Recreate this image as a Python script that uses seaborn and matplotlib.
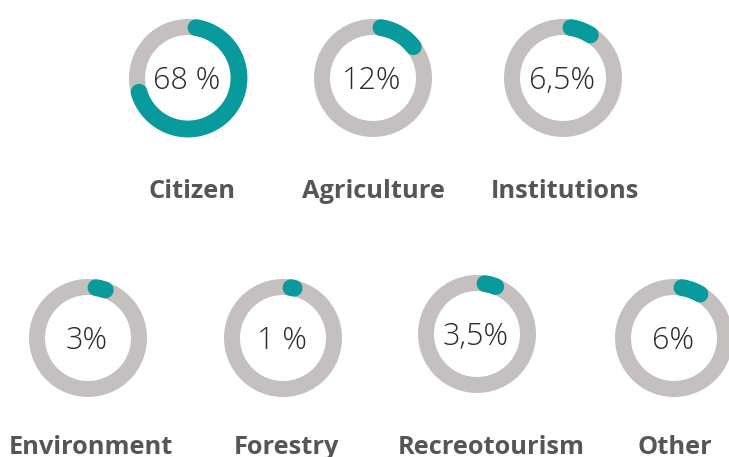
import matplotlib.pyplot as plt
import numpy as np
import pandas as pd
import seaborn as sns
from matplotlib.patches import Circle

CATEGORIAS = ['Citizen', 'Agriculture', 'Institutions',
              'Environment', 'Forestry', 'Recreotourism', 'Other']
VALORES = [68, 12, 6.5, 3, 1, 3.5, 6]
ROTULOS = ['68 %', '12%', '6,5%', '3%', '1 %', '3,5%', '6%']

# layout em pixels (figura 729x457)
CENTROS = [(188, 78), (373, 78), (563, 78),
           (88, 338), (283, 338), (477, 334), (674, 338)]
POS_TITULOS = [(192, 192), (373, 192), (565, 192),
               (91, 448), (286, 448), (491, 448), (675, 448)]

COR_ANEL = '#c5c0c0'
COR_ARCO = '#089a9c'
RAIO = 51
LARGURA_PX = 16
OFFSET_GRAUS = 9


def desenhar_donut(ax, cx, cy, valor, rotulo):
    lw = LARGURA_PX * 72 / 100
    ax.add_patch(Circle((cx, cy), RAIO, fill=False, lw=lw, ec=COR_ANEL))

    t = np.radians(np.linspace(OFFSET_GRAUS, OFFSET_GRAUS + valor * 3.6, 120))
    arco = pd.DataFrame({'x': cx + RAIO * np.sin(t), 'y': cy - RAIO * np.cos(t)})
    sns.lineplot(data=arco, x='x', y='y', ax=ax, sort=False, estimator=None,
                 color=COR_ARCO, lw=lw * 1.05, solid_capstyle='round')

    ax.text(cx - 1, cy + 3, rotulo, ha='center', va='center', fontsize=22,
            fontfamily='Open Sans', fontweight='light', color='#2b2b2b')


def main():
    sns.set_theme(style='white')
    plt.rcParams['font.family'] = ['Open Sans', 'DejaVu Sans']

    fig = plt.figure(figsize=(7.29, 4.57), dpi=100)
    ax = fig.add_axes([0, 0, 1, 1])
    ax.set_xlim(0, 729)
    ax.set_ylim(457, 0)
    ax.set_aspect('equal')
    ax.axis('off')

    for (cx, cy), valor, rotulo in zip(CENTROS, VALORES, ROTULOS):
        desenhar_donut(ax, cx, cy, valor, rotulo)

    for (x, y), nome in zip(POS_TITULOS, CATEGORIAS):
        ax.text(x, y, nome, ha='center', va='center', fontsize=18.3,
                fontweight='bold', color='#565656')

    fig.savefig('out.png', dpi=100, facecolor='white')
    plt.close(fig)


if __name__ == '__main__':
    main()
